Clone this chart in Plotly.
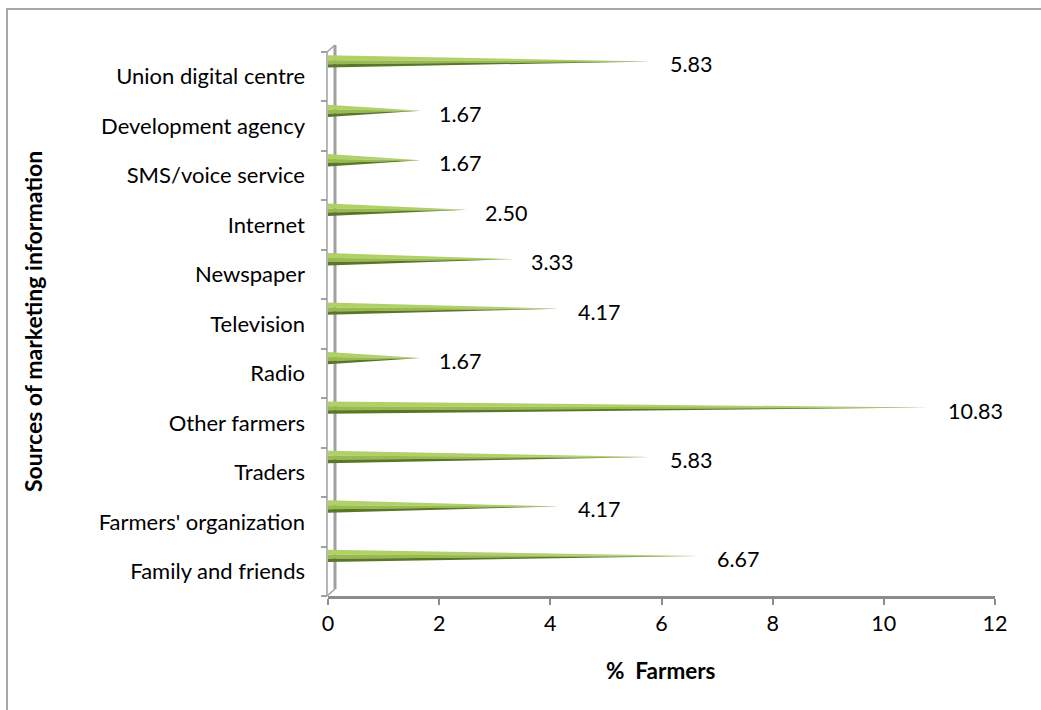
import plotly.graph_objects as go

# Sources of marketing information and share of farmers using each (%)
categories = [
    "Family and friends",
    "Farmers' organization",
    "Traders",
    "Other farmers",
    "Radio",
    "Television",
    "Newspaper",
    "Internet",
    "SMS/voice service",
    "Development agency",
    "Union digital centre",
]
values = [6.67, 4.17, 5.83, 10.83, 1.67, 4.17, 3.33, 2.50, 1.67, 1.67, 5.83]
x_ticks = [0, 2, 4, 6, 8, 10, 12]

W, H = 1041, 710
L, R, T, B = 328, 46, 52, 114
FONT = "Lato"
GRAY = "#a0a0a0"


def px(x):
    return (x - L) / (W - L - R)


def py(y):
    return (H - B - y) / (H - T - B)


# cone geometry: centre lifted inside each category row, base half-height
lift = 0.31
half = 0.125
bands = [  # (top fraction, bottom fraction, colour) of the cone's base
    (1.0, 0.2, "#b0d166"),
    (0.2, -0.45, "#98ba4f"),
    (-0.45, -1.0, "#5a7725"),
]

fig = go.Figure()
for top, bot, col in bands:
    xs, ys = [], []
    for i, v in enumerate(values):
        c = i + lift
        xs += [0, v, 0, 0, None]
        ys += [c + top * half, c, c + bot * half, c + top * half, None]
    fig.add_trace(go.Scatter(
        x=xs, y=ys, mode="lines", fill="toself", fillcolor=col,
        line=dict(width=0, color=col), hoverinfo="skip", showlegend=False,
    ))

# value labels at the cone tips
for i, v in enumerate(values):
    fig.add_annotation(
        x=v, y=i + lift, text=f"{v:.2f}", showarrow=False,
        xanchor="left", yanchor="middle", xshift=16, yshift=-3,
        font=dict(family=FONT, size=21.5, color="#000000"),
    )

# axis titles
fig.add_annotation(
    x=px(661), y=py(670), xref="paper", yref="paper", text="<b>%&nbsp; Farmers</b>",
    showarrow=False, xanchor="center", yanchor="middle",
    font=dict(family=FONT, size=22.5, color="#000000"),
)
fig.add_annotation(
    x=px(33), y=py(322), xref="paper", yref="paper",
    text="<b>Sources of marketing information</b>", textangle=-90,
    showarrow=False, xanchor="center", yanchor="middle",
    font=dict(family=FONT, size=23, color="#000000"),
)

shapes = []


def seg(x0, y0, x1, y1, width, color=GRAY):
    shapes.append(dict(
        type="line", xref="paper", yref="paper", layer="below",
        x0=px(x0), y0=py(y0), x1=px(x1), y1=py(y1),
        line=dict(color=color, width=width),
    ))


# side wall of the 3-D plot
seg(327, 52, 327, 596, 1.5)
seg(335, 45, 335, 589, 3)
seg(327, 52, 335, 45, 1.5)
seg(327, 596, 335, 589, 1.5)

# chart frame
shapes.append(dict(
    type="rect", xref="paper", yref="paper", layer="below",
    x0=px(7), y0=py(9), x1=px(1080), y1=py(740),
    line=dict(color="#8c8c8c", width=1.5), fillcolor="rgba(0,0,0,0)",
))

fig.update_layout(
    width=W, height=H, autosize=False,
    margin=dict(l=L, r=R, t=T, b=B),
    paper_bgcolor="white", plot_bgcolor="rgba(0,0,0,0)",
    shapes=shapes, showlegend=False,
    xaxis=dict(
        range=[0, 12], tickvals=x_ticks, ticktext=[str(t) for t in x_ticks],
        ticks="outside", ticklen=6, tickwidth=1.5, tickcolor="#8c8c8c",
        showline=True, linewidth=3, linecolor="#8c8c8c",
        showgrid=False, zeroline=False, fixedrange=True,
        tickfont=dict(family=FONT, size=21.5, color="#000000"),
    ),
    yaxis=dict(
        range=[-0.5, 10.5], tickvals=list(range(len(categories))), ticktext=categories,
        ticks="", showline=False, showgrid=False, zeroline=False,
        ticklabelstandoff=22, fixedrange=True,
        tickfont=dict(family=FONT, size=22, color="#000000"),
    ),
    yaxis2=dict(
        overlaying="y", side="left", anchor="x", range=[-0.5, 10.5],
        tickvals=[k - 0.5 for k in range(len(categories) + 1)],
        ticks="outside", ticklen=6, tickwidth=1.5, tickcolor=GRAY,
        showticklabels=False, showline=False, showgrid=False, zeroline=False,
    ),
)

# invisible trace to activate the boundary tick axis
fig.add_trace(go.Scatter(x=[None], y=[None], yaxis="y2", showlegend=False, hoverinfo="skip"))

fig.write_html("out.html")
